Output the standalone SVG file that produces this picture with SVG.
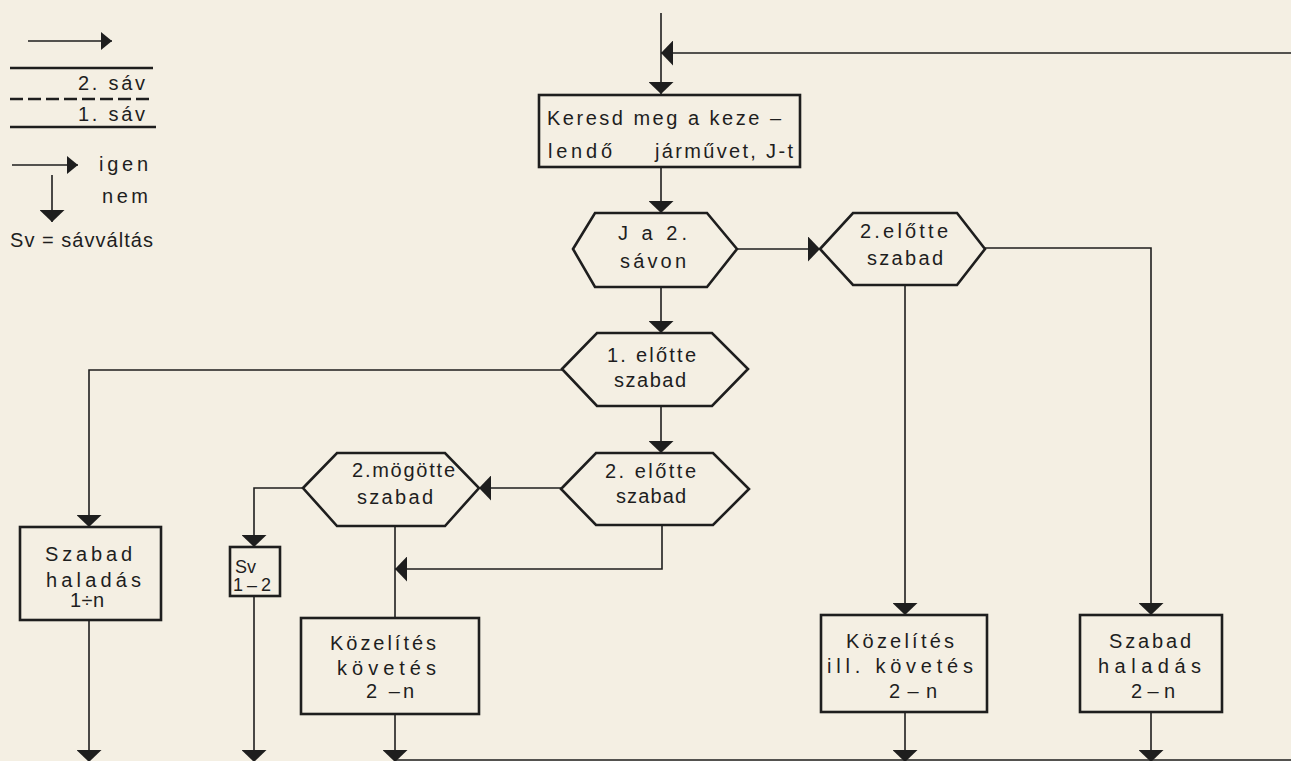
<svg xmlns="http://www.w3.org/2000/svg" width="1291" height="761" viewBox="0 0 1291 761">
<defs>
<style>
.bg{fill:#f4efe3}
.box{fill:none;stroke:#1e1e1e;stroke-width:2.6}
.c{fill:none;stroke:#1e1e1e;stroke-width:1.6}
.lg{fill:none;stroke:#1e1e1e;stroke-width:2.4}
.t{font-family:"Liberation Sans",Arial,sans-serif;font-size:20px;fill:#1e1e1e}
.ts{font-family:"Liberation Sans",Arial,sans-serif;font-size:18px;fill:#1e1e1e}
</style>
<marker id="a" viewBox="0 0 12 25" refX="12" refY="12.5" markerWidth="12" markerHeight="25" markerUnits="userSpaceOnUse" orient="auto">
<path d="M0,0 L12,12.5 L0,25 Z" fill="#1e1e1e"/>
</marker>
<marker id="as" viewBox="0 0 11 18" refX="11" refY="9" markerWidth="11" markerHeight="18" markerUnits="userSpaceOnUse" orient="auto">
<path d="M0,0 L11,9 L0,18 Z" fill="#1e1e1e"/>
</marker>
</defs>
<rect class="bg" x="0" y="0" width="1291" height="761"/>

<g id="legend">
<path class="c" d="M28,41 H112" marker-end="url(#as)" stroke-width="1.3"/>
<path class="lg" d="M10,68 H153"/>
<text class="t" x="78" y="90" textLength="67">2. sáv</text>
<path class="lg" d="M10,99 H153" stroke-dasharray="13,5" stroke-width="2"/>
<text class="t" x="78" y="121" textLength="67">1.  sáv</text>
<path class="lg" d="M10,127 H156"/>
<path class="c" d="M12,165 H78" marker-end="url(#as)" stroke-width="1.3"/>
<text class="t" x="99" y="171" textLength="49">igen</text>
<path class="c" d="M52,175 V222" marker-end="url(#a)" stroke-width="1.3"/>
<text class="t" x="102" y="203" textLength="46">nem</text>
<text class="t" x="10" y="247" textLength="143">Sv = sávváltás</text>
</g>

<g id="connectors">
<path class="c" d="M661,13 V94" marker-end="url(#a)"/>
<path class="c" d="M1291,53 H661" marker-end="url(#a)"/>
<path class="c" d="M661,167 V213" marker-end="url(#a)"/>
<path class="c" d="M737,249 H820" marker-end="url(#a)"/>
<path class="c" d="M985,248 H1151 V615" marker-end="url(#a)"/>
<path class="c" d="M905,285 V615" marker-end="url(#a)"/>
<path class="c" d="M661,287 V333" marker-end="url(#a)"/>
<path class="c" d="M562,370 H89 V527" marker-end="url(#a)"/>
<path class="c" d="M661,406 V453" marker-end="url(#a)"/>
<path class="c" d="M561,488 H479" marker-end="url(#a)"/>
<path class="c" d="M303,488 H254 V547" marker-end="url(#a)"/>
<path class="c" d="M662,525 V569 H395" marker-end="url(#a)"/>
<path class="c" d="M395,526 V618"/>
<path class="c" d="M89,620 V762" marker-end="url(#a)"/>
<path class="c" d="M254,596 V762" marker-end="url(#a)"/>
<path class="c" d="M395,714 V762" marker-end="url(#a)"/>
<path class="c" d="M905,712 V762" marker-end="url(#a)"/>
<path class="c" d="M1151,712 V762" marker-end="url(#a)"/>
<path class="c" d="M396,760 H1291" stroke-width="2"/>
</g>

<g id="n-keresd">
<rect class="box" x="539" y="95" width="261" height="72"/>
<text class="t" x="547" y="125" textLength="234">Keresd meg a keze –</text>
<text class="t" y="158"><tspan x="548" textLength="64">lendő</tspan><tspan x="655" textLength="138">járművet, J-t</tspan></text>
</g>

<g id="n-ja2savon">
<polygon class="box" points="573,249 595,213 707,213 737,249 707,287 595,287"/>
<text class="t" x="618" y="240" textLength="69">J a 2.</text>
<text class="t" x="620" y="268" textLength="66">sávon</text>
</g>

<g id="n-2elotte-top">
<polygon class="box" points="820,249 853,213 957,213 985,249 957,285 853,285"/>
<text class="t" x="860" y="238" textLength="88">2.előtte</text>
<text class="t" x="867" y="265" textLength="76">szabad</text>
</g>

<g id="n-1elotte">
<polygon class="box" points="562,369 597,333 712,333 748,369 712,406 597,406"/>
<text class="t" x="607" y="362" textLength="89">1. előtte</text>
<text class="t" x="614" y="387" textLength="72">szabad</text>
</g>

<g id="n-2elotte">
<polygon class="box" points="561,489 596,453 713,453 749,489 713,525 596,525"/>
<text class="t" x="605" y="478" textLength="91">2. előtte</text>
<text class="t" x="616" y="503" textLength="70">szabad</text>
</g>

<g id="n-2mogotte">
<polygon class="box" points="303,488 337,453 445,453 479,488 445,526 337,526"/>
<text class="t" x="352" y="477" textLength="103">2.mögötte</text>
<text class="t" x="357" y="504" textLength="76">szabad</text>
</g>

<g id="n-szabad1n">
<rect class="box" x="20" y="527" width="141" height="93"/>
<text class="t" x="45" y="561" textLength="87">Szabad</text>
<text class="t" x="46" y="587" textLength="95">haladás</text>
<text class="t" x="70" y="607" textLength="34">1÷n</text>
</g>

<g id="n-sv12">
<rect class="box" x="230" y="547" width="50" height="49"/>
<text class="ts" x="235" y="573">Sv</text>
<text class="ts" x="233" y="591" textLength="38">1–2</text>
</g>

<g id="n-kozelites-left">
<rect class="box" x="301" y="618" width="178" height="96"/>
<text class="t" x="330" y="650" textLength="106">Közelítés</text>
<text class="t" x="337" y="675" textLength="99">követés</text>
<text class="t" x="366" y="698" textLength="48">2 –n</text>
</g>

<g id="n-kozelites-right">
<rect class="box" x="821" y="615" width="166" height="97"/>
<text class="t" x="846" y="648" textLength="108">Közelítés</text>
<text class="t" x="827" y="673" textLength="146">ill.  követés</text>
<text class="t" x="889" y="698" textLength="48">2 – n</text>
</g>

<g id="n-szabad2n">
<rect class="box" x="1080" y="615" width="142" height="97"/>
<text class="t" x="1109" y="648" textLength="82">Szabad</text>
<text class="t" x="1098" y="673" textLength="103">haladás</text>
<text class="t" x="1131" y="698" textLength="44">2–n</text>
</g>
</svg>
